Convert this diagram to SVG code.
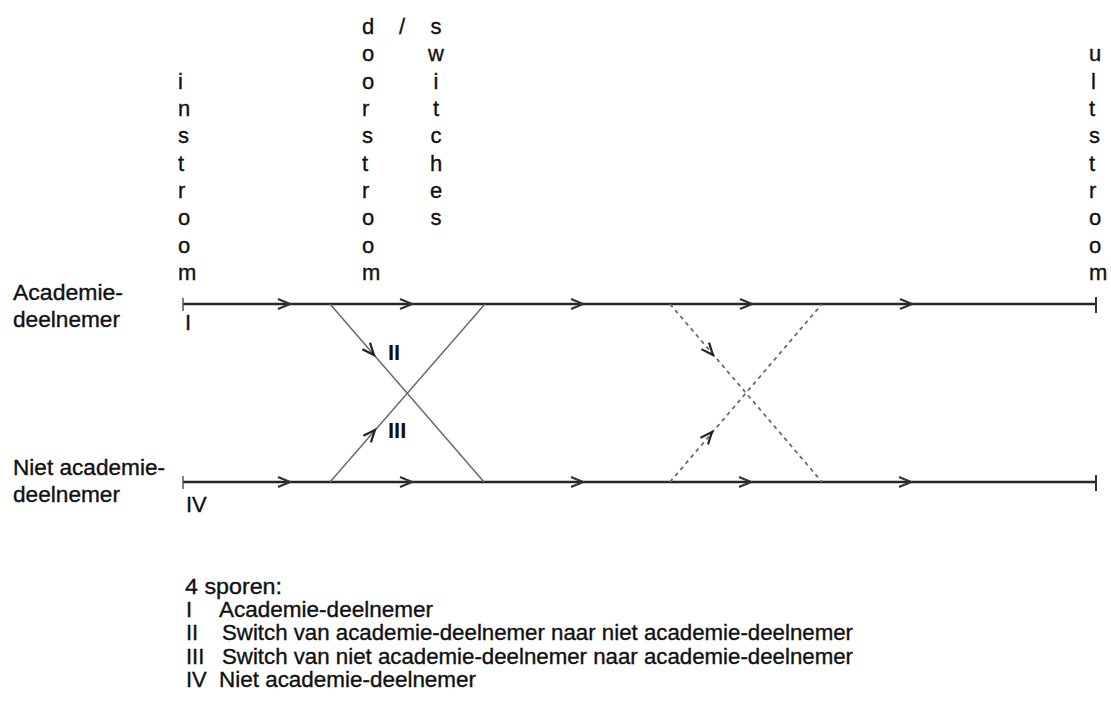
<svg xmlns="http://www.w3.org/2000/svg" width="1111" height="704" viewBox="0 0 1111 704">
<style>
  text { font-family: "Liberation Sans", Arial, sans-serif; font-size: 22px; fill: #111; stroke: #111; stroke-width: 0.35; }
  .bold { font-weight: bold; stroke-width: 0; }
  .mid { text-anchor: middle; }
  .track { stroke: #262626; stroke-width: 2.5; fill: none; }
  .tick { stroke: #555; stroke-width: 1.5; fill: none; }
  .tickend { stroke: #333; stroke-width: 2; fill: none; }
  .arr { stroke: #333; stroke-width: 2.2; fill: none; }
  .sw1 { stroke: #6a6a6a; stroke-width: 1.5; fill: none; }
  .sw2 { stroke: #6a6a6a; stroke-width: 1.8; fill: none; stroke-dasharray: 4 4; }
  .darr { stroke: #222; stroke-width: 2.2; fill: none; }
</style>
<defs>
  <path id="chev" d="M -12,-5 L 0,0 L -12,5"/>
</defs>

<g id="col-instroom">
  <text x="178" y="88.7">i</text>
  <text x="178" y="116">n</text>
  <text x="178" y="143.3">s</text>
  <text x="178" y="170.7">t</text>
  <text x="178" y="198">r</text>
  <text x="178" y="225.3">o</text>
  <text x="178" y="252.7">o</text>
  <text x="178" y="280">m</text>
</g>
<g id="col-doorstroom">
  <text x="362" y="34">d</text>
  <text x="362" y="61.3">o</text>
  <text x="362" y="88.7">o</text>
  <text x="362" y="116">r</text>
  <text x="362" y="143.3">s</text>
  <text x="362" y="170.7">t</text>
  <text x="362" y="198">r</text>
  <text x="362" y="225.3">o</text>
  <text x="362" y="252.7">o</text>
  <text x="362" y="280">m</text>
  <text x="399" y="34">/</text>
</g>
<g id="col-switches">
  <text class="mid" x="436" y="34">s</text>
  <text class="mid" x="436" y="61.3">w</text>
  <text class="mid" x="436" y="88.7">i</text>
  <text class="mid" x="436" y="116">t</text>
  <text class="mid" x="436" y="143.3">c</text>
  <text class="mid" x="436" y="170.7">h</text>
  <text class="mid" x="436" y="198">e</text>
  <text class="mid" x="436" y="225.3">s</text>
</g>
<g id="col-uitstroom">
  <text x="1089" y="61.3">u</text>
  <text x="1091" y="88.7">l</text>
  <text x="1089" y="116">t</text>
  <text x="1089" y="143.3">s</text>
  <text x="1089" y="170.7">t</text>
  <text x="1089" y="198">r</text>
  <text x="1089" y="225.3">o</text>
  <text x="1089" y="252.7">o</text>
  <text x="1089" y="280">m</text>
</g>

<g id="label-academie">
  <text x="13" y="300" textLength="110" lengthAdjust="spacingAndGlyphs">Academie-</text>
  <text x="13" y="327" textLength="107" lengthAdjust="spacingAndGlyphs">deelnemer</text>
</g>
<g id="label-niet">
  <text x="13" y="475" textLength="152" lengthAdjust="spacingAndGlyphs">Niet academie-</text>
  <text x="13" y="502" textLength="107" lengthAdjust="spacingAndGlyphs">deelnemer</text>
</g>

<g id="track-top">
  <line class="track" x1="183" y1="304" x2="1096" y2="304"/>
  <line class="tick" x1="183" y1="298" x2="183" y2="311"/>
  <line class="tickend" x1="1096" y1="297" x2="1096" y2="313"/>
  <text x="185" y="330">I</text>
</g>
<g id="track-bottom">
  <line class="track" x1="183" y1="482" x2="1096" y2="482"/>
  <line class="tick" x1="183" y1="476" x2="183" y2="489"/>
  <line class="tickend" x1="1096" y1="475" x2="1096" y2="491"/>
  <text x="186" y="512">IV</text>
</g>

<g id="connectors">
  <g id="track-arrows">
    <use href="#chev" class="arr" x="290" y="304"/>
    <use href="#chev" class="arr" x="412" y="304"/>
    <use href="#chev" class="arr" x="583" y="304"/>
    <use href="#chev" class="arr" x="752" y="304"/>
    <use href="#chev" class="arr" x="912" y="304"/>
    <use href="#chev" class="arr" x="290" y="482"/>
    <use href="#chev" class="arr" x="412" y="482"/>
    <use href="#chev" class="arr" x="583" y="482"/>
    <use href="#chev" class="arr" x="751" y="482"/>
    <use href="#chev" class="arr" x="911" y="482"/>
  </g>
  <g id="switch-1">
    <line class="sw1" x1="330" y1="304" x2="484" y2="482"/>
    <line class="sw1" x1="330" y1="482" x2="485" y2="304"/>
    <use href="#chev" class="darr" transform="translate(374,355) rotate(49.3)"/>
    <use href="#chev" class="darr" transform="translate(375,430) rotate(-48.9)"/>
  </g>
  <g id="switch-2">
    <line class="sw2" x1="670" y1="304" x2="822" y2="482"/>
    <line class="sw2" x1="670" y1="482" x2="822" y2="304"/>
    <use href="#chev" class="darr" transform="translate(713,355) rotate(49.5)"/>
    <use href="#chev" class="darr" transform="translate(712,432) rotate(-49.5)"/>
  </g>
</g>

<g id="label-II"><text class="bold" x="388" y="360">II</text></g>
<g id="label-III"><text class="bold" x="388" y="438">III</text></g>

<g id="legend">
  <text x="185" y="594" textLength="97" lengthAdjust="spacingAndGlyphs">4 sporen:</text>
  <text x="186" y="617">I</text>
  <text x="219" y="617" textLength="214" lengthAdjust="spacingAndGlyphs">Academie-deelnemer</text>
  <text x="186" y="640">II</text>
  <text x="222" y="640" textLength="631" lengthAdjust="spacingAndGlyphs">Switch van academie-deelnemer naar niet academie-deelnemer</text>
  <text x="186" y="664">III</text>
  <text x="222" y="664" textLength="631" lengthAdjust="spacingAndGlyphs">Switch van niet academie-deelnemer naar academie-deelnemer</text>
  <text x="186" y="687">IV</text>
  <text x="219" y="687" textLength="257" lengthAdjust="spacingAndGlyphs">Niet academie-deelnemer</text>
</g>
</svg>
